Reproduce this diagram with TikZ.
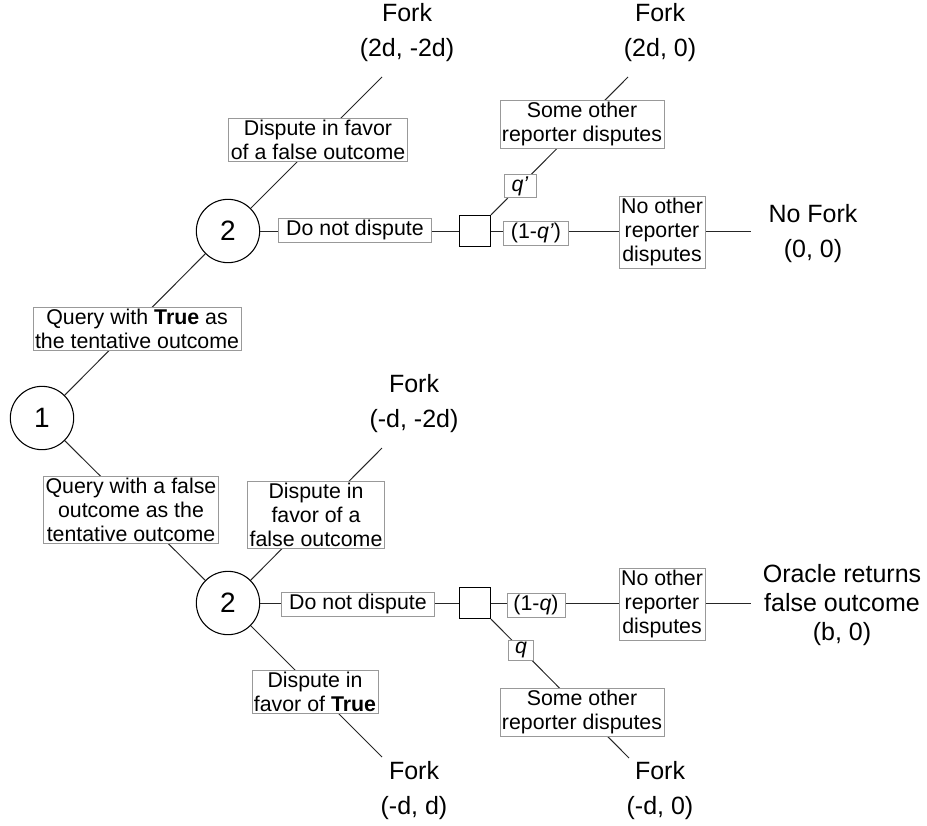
\documentclass[tikz,border=0pt]{standalone}
\usepackage{fontspec}
\setmainfont{Liberation Sans}
\usepackage{tikz}
\usetikzlibrary{
  positioning
}
\tikzset{
  player/.style={circle,draw=black,line width=0.8pt,minimum size=47.5pt,inner sep=0pt,font=\fontsize{21}{24}\selectfont},
  chance/.style={rectangle,draw=black,line width=1.2pt,minimum size=23pt,inner sep=0pt},
  choice/.style={rectangle,draw=black!40,fill=white,line width=0.6pt,align=center,inner xsep=1.5pt,inner ysep=1.5pt,font=\fontsize{16}{18}\selectfont},
  payoff/.style={align=center,inner sep=0pt,font=\fontsize{18.75}{26.25}\selectfont},
  branch/.style={draw=black!85,line width=0.75pt}
}
\begin{document}
\begin{tikzpicture}[x=0.75pt,y=-0.75pt]
  \useasboundingbox (0,0) rectangle (927,825);
  \node[player] (p1) at (42,418) {1};
  \node[player] (p2t) at (228,231) {2};
  \node[player] (p2f) at (228,603) {2};
  \node[chance] (c1) at (475,231) {};
  \node[chance] (c2) at (475,603) {};
  \coordinate (e1) at (382,77);
  \coordinate (e2) at (628,77);
  \coordinate (e3) at (751,231);
  \coordinate (e4) at (382,448);
  \coordinate (e5) at (382,757);
  \coordinate (e6) at (751,603);
  \coordinate (e7) at (629,758);
  \node[payoff] (f1) at (407,33) {Fork\\(2d, -2d)};
  \node[payoff] (f2) at (660,33) {Fork\\(2d, 0)};
  \node[payoff] (f3) at (813,234) {No Fork\\(0, 0)};
  \node[payoff] (f4) at (414,404) {Fork\\(-d, -2d)};
  \node[payoff] (f5) at (414,791) {Fork\\(-d, d)};
  \node[payoff,font=\fontsize{18.75}{21.4}\selectfont] (f6) at (842,605) {Oracle returns\\false outcome\\(b, 0)};
  \node[payoff] (f7) at (660,791) {Fork\\(-d, 0)};
  \draw[branch] (p1) -- (p2t);
  \draw[branch] (p1) -- (p2f);
  \draw[branch] (p2t) -- (e1);
  \draw[branch] (p2t) -- (c1);
  \draw[branch] (c1) -- (e2);
  \draw[branch] (c1) -- (e3);
  \draw[branch] (p2f) -- (e4);
  \draw[branch] (p2f) -- (e5);
  \draw[branch] (p2f) -- (c2);
  \draw[branch] (c2) -- (e6);
  \draw[branch] (c2) -- (e7);
  \node[choice] (l1) at (137,329) {Query with \textbf{True} as\\the tentative outcome};
  \node[choice] (l2) at (131,510) {Query with a false\\outcome as the\\tentative outcome};
  \node[choice] (l3) at (318,140) {Dispute in favor\\of a false outcome};
  \node[choice,minimum width=115pt] (l4) at (355,230) {Do not dispute};
  \node[choice] (l5) at (582,124) {Some other\\reporter disputes};
  \node[choice,minimum width=24pt] (l6) at (520,186) {\textit{q'}};
  \node[choice,minimum width=49pt] (l7) at (536,233) {(1-\textit{q'})};
  \node[choice] (l8) at (662,232) {No other\\reporter\\disputes};
  \node[choice] (l9) at (316,515) {Dispute in\\favor of a\\false outcome};
  \node[choice,minimum width=115pt] (l10) at (358,604) {Do not dispute};
  \node[choice] (l11) at (315,692) {Dispute in\\favor of \textbf{True}};
  \node[choice,minimum width=43.5pt] (l12) at (536,605) {(1-\textit{q})};
  \node[choice] (l13) at (662,604) {No other\\reporter\\disputes};
  \node[choice,minimum width=19pt] (l14) at (521,650) {\textit{q}};
  \node[choice] (l15) at (582,712) {Some other\\reporter disputes};
\end{tikzpicture}
\end{document}
